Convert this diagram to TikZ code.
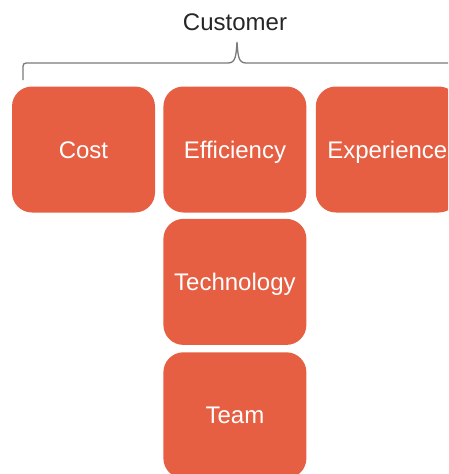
\documentclass[tikz,border=0pt]{standalone}
\usepackage{fontspec}
\setmainfont{Liberation Sans}
\usetikzlibrary{positioning}

\definecolor{tile}{HTML}{E65F43}
\definecolor{bracegray}{HTML}{7A7A7A}

\tikzset{
  tile/.style={fill=tile, draw=none, rounded corners=20pt, text=white,
    minimum width=143pt, minimum height=126pt, inner sep=0pt,
    text height=17pt, text depth=0pt,
    font=\fontsize{24}{28}\selectfont},
  bracket/.style={draw=bracegray, line width=1.3pt}
}

\begin{document}
\begin{tikzpicture}[x=1pt,y=-1pt]

\useasboundingbox (0,0) rectangle (448,474);
\clip (0,0) rectangle (448,474);

\node[tile] (cost) at (83.5,149.5) {Cost};

\node[tile, right =8pt of cost] (eff) {Efficiency};

\node[tile, right =9pt of eff] (exp) {Experience};

\node[tile, below =6pt of eff] (tech) {Technology};

\node[tile, below =7pt of tech] (team) {Team};

\node[font=\fontsize{24}{28}\selectfont, text=black!85] (cust) at (235,22) {Customer};

% brace over the top row
\coordinate (bl) at (23,80);
\coordinate (tip) at (237,42);
\draw[bracket] (bl) -- (23,70) .. controls (23,63) .. (30,63)
  -- (228,63) .. controls (236,63) and (236,55) .. (tip)
  .. controls (238,55) and (238,63) .. (246,63) -- (460,63);

\end{tikzpicture}
\end{document}
